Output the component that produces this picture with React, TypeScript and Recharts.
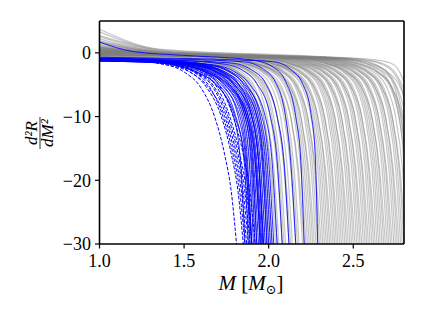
import { LineChart, Line, XAxis, YAxis, ReferenceLine } from 'recharts';

type Curve = [number, number][];

const xTicks = [1.0, 1.5, 2.0, 2.5];
const yTicks = [-30, -20, -10, 0];

// grey: all EOS samples, (M, d2R/dM2)
const grayCurves: Curve[] = [
    [[1, -0.8], [1.35, -0.95], [1.42, -1.1], [1.6, -1.7], [1.72, -3], [1.8, -5.5], [1.85, -10], [1.89, -18], [1.92, -30]],
    [[1, -0.6], [1.35, -0.75], [1.45, -1.1], [1.63, -1.7], [1.75, -3], [1.83, -5.5], [1.88, -10], [1.92, -18], [1.95, -30]],
    [[1, -0.9], [1.35, -1.05], [1.48, -1.1], [1.66, -1.7], [1.78, -3], [1.86, -5.5], [1.91, -10], [1.95, -18], [1.98, -30]],
    [[1, -0.4], [1.35, -0.55], [1.5, -1.0], [1.68, -1.7], [1.8, -3], [1.88, -5.5], [1.93, -10], [1.97, -18], [2.0, -30]],
    [[1, -0.7], [1.35, -0.85], [1.52, -1.1], [1.7, -1.7], [1.82, -3], [1.9, -5.5], [1.95, -10], [1.99, -18], [2.02, -30]],
    [[1, 0.1], [1.35, -0.3], [1.54, -0.8], [1.72, -1.7], [1.84, -3], [1.92, -5.5], [1.97, -10], [2.01, -18], [2.04, -30]],
    [[1, -0.5], [1.35, -0.6], [1.56, -0.9], [1.74, -1.7], [1.86, -3], [1.94, -5.5], [1.99, -10], [2.03, -18], [2.06, -30]],
    [[1, 0.4], [1.35, -0.2], [1.58, -0.7], [1.76, -1.7], [1.88, -3], [1.96, -5.5], [2.01, -10], [2.05, -18], [2.08, -30]],
    [[1, -0.3], [1.35, -0.4], [1.6, -0.7], [1.78, -1.7], [1.9, -3], [1.98, -5.5], [2.03, -10], [2.07, -18], [2.1, -30]],
    [[1, 1.1], [1.35, 0], [1.62, -0.6], [1.8, -1.7], [1.92, -3], [2.0, -5.5], [2.05, -10], [2.09, -18], [2.12, -30]],
    [[1, -0.2], [1.35, -0.35], [1.64, -0.6], [1.82, -1.7], [1.94, -3], [2.02, -5.5], [2.07, -10], [2.11, -18], [2.14, -30]],
    [[1, 0.3], [1.35, -0.2], [1.66, -0.6], [1.84, -1.7], [1.96, -3], [2.04, -5.5], [2.09, -10], [2.13, -18], [2.16, -30]],
    [[1, -0.6], [1.35, -0.45], [1.68, -0.6], [1.86, -1.7], [1.98, -3], [2.06, -5.5], [2.11, -10], [2.15, -18], [2.18, -30]],
    [[1, 0], [1.35, -0.3], [1.7, -0.55], [1.88, -1.7], [2.0, -3], [2.08, -5.5], [2.13, -10], [2.17, -18], [2.2, -30]],
    [[1, 1.9], [1.35, 0.2], [1.72, -0.5], [1.9, -1.7], [2.02, -3], [2.1, -5.5], [2.15, -10], [2.19, -18], [2.22, -30]],
    [[1, 0.2], [1.35, -0.25], [1.74, -0.55], [1.92, -1.7], [2.04, -3], [2.12, -5.5], [2.17, -10], [2.21, -18], [2.24, -30]],
    [[1, 0.6], [1.35, -0.15], [1.75, -0.5], [1.93, -1.7], [2.05, -3], [2.13, -5.5], [2.18, -10], [2.22, -18], [2.25, -30]],
    [[1, -0.4], [1.35, -0.4], [1.76, -0.6], [1.94, -1.7], [2.06, -3], [2.14, -5.5], [2.19, -10], [2.23, -18], [2.26, -30]],
    [[1, 0.5], [1.35, -0.2], [1.78, -0.5], [1.96, -1.6], [2.08, -3], [2.16, -5.5], [2.21, -10], [2.25, -18], [2.28, -30]],
    [[1, -0.1], [1.35, -0.3], [1.8, -0.55], [1.98, -1.6], [2.1, -3], [2.18, -5.5], [2.23, -10], [2.27, -18], [2.3, -30]],
    [[1, 2.7], [1.35, 0.4], [1.82, -0.5], [2.0, -1.6], [2.12, -3], [2.2, -5.5], [2.25, -10], [2.29, -18], [2.32, -30]],
    [[1, 0.3], [1.35, -0.2], [1.84, -0.55], [2.02, -1.6], [2.14, -3], [2.22, -5.5], [2.27, -10], [2.31, -18], [2.34, -30]],
    [[1, 1.6], [1.35, 0.1], [1.85, -0.5], [2.03, -1.6], [2.15, -3], [2.23, -5.5], [2.28, -10], [2.32, -18], [2.35, -30]],
    [[1, -0.5], [1.35, -0.45], [1.86, -0.65], [2.04, -1.6], [2.16, -3], [2.24, -5.5], [2.29, -10], [2.33, -18], [2.36, -30]],
    [[1, 0.1], [1.35, -0.3], [1.88, -0.6], [2.06, -1.6], [2.18, -3], [2.26, -5.5], [2.31, -10], [2.35, -18], [2.38, -30]],
    [[1, 0.8], [1.35, -0.1], [1.9, -0.55], [2.08, -1.6], [2.2, -3], [2.28, -5.5], [2.33, -10], [2.37, -18], [2.4, -30]],
    [[1, -0.2], [1.35, -0.35], [1.92, -0.65], [2.1, -1.6], [2.22, -3], [2.3, -5.5], [2.35, -10], [2.39, -18], [2.42, -30]],
    [[1, 0.4], [1.35, -0.2], [1.94, -0.6], [2.12, -1.6], [2.24, -3], [2.32, -5.5], [2.37, -10], [2.41, -18], [2.44, -30]],
    [[1, 0.2], [1.35, -0.25], [1.95, -0.65], [2.13, -1.6], [2.25, -3], [2.33, -5.5], [2.38, -10], [2.42, -18], [2.45, -30]],
    [[1, -0.3], [1.35, -0.4], [1.96, -0.7], [2.14, -1.6], [2.26, -3], [2.34, -5.5], [2.39, -10], [2.43, -18], [2.46, -30]],
    [[1, 1.4], [1.35, 0.05], [1.98, -0.6], [2.16, -1.6], [2.28, -3], [2.36, -5.5], [2.41, -10], [2.45, -18], [2.48, -30]],
    [[1, 0], [1.35, -0.3], [2.0, -0.65], [2.18, -1.6], [2.3, -3], [2.38, -5.5], [2.43, -10], [2.47, -18], [2.5, -30]],
    [[1, 0.6], [1.35, -0.15], [2.02, -0.65], [2.2, -1.6], [2.32, -3], [2.4, -5.5], [2.45, -10], [2.49, -18], [2.52, -30]],
    [[1, -0.4], [1.35, -0.45], [2.04, -0.75], [2.22, -1.6], [2.34, -3], [2.42, -5.5], [2.47, -10], [2.51, -18], [2.54, -30]],
    [[1, 0.2], [1.35, -0.25], [2.06, -0.7], [2.24, -1.6], [2.36, -3], [2.44, -5.5], [2.49, -10], [2.53, -18], [2.56, -30]],
    [[1, 3.3], [1.35, 0.5], [2.08, -0.6], [2.26, -1.6], [2.38, -3], [2.46, -5.5], [2.51, -10], [2.55, -18], [2.58, -30]],
    [[1, -0.1], [1.35, -0.35], [2.1, -0.75], [2.28, -1.6], [2.4, -3], [2.48, -5.5], [2.53, -10], [2.57, -18], [2.6, -30]],
    [[1, 0.5], [1.35, -0.2], [2.12, -0.7], [2.3, -1.6], [2.42, -3], [2.5, -5.5], [2.55, -10], [2.59, -18], [2.62, -30]],
    [[1, -0.3], [1.35, -0.4], [2.14, -0.8], [2.32, -1.6], [2.44, -3], [2.52, -5.5], [2.57, -10], [2.61, -18], [2.64, -30]],
    [[1, 0], [1.35, -0.3], [2.15, -0.75], [2.33, -1.6], [2.45, -3], [2.53, -5.5], [2.58, -10], [2.62, -18], [2.65, -30]],
    [[1, 0.9], [1.35, -0.1], [2.16, -0.7], [2.34, -1.6], [2.46, -3], [2.54, -5.5], [2.59, -10], [2.63, -18], [2.66, -30]],
    [[1, 0.1], [1.35, -0.3], [2.18, -0.75], [2.36, -1.6], [2.48, -3], [2.56, -5.5], [2.61, -10], [2.65, -18], [2.68, -30]],
    [[1, -0.2], [1.35, -0.35], [2.2, -0.8], [2.38, -1.6], [2.5, -3], [2.58, -5.5], [2.63, -10], [2.67, -18], [2.7, -30]],
    [[1, 0.4], [1.35, -0.2], [2.22, -0.75], [2.4, -1.6], [2.52, -3], [2.6, -5.5], [2.65, -10], [2.69, -18], [2.72, -30]],
    [[1, 2.2], [1.35, 0.25], [2.24, -0.7], [2.42, -1.6], [2.54, -3], [2.62, -5.5], [2.67, -10], [2.71, -18], [2.74, -30]],
    [[1, 0], [1.35, -0.3], [2.26, -0.8], [2.44, -1.6], [2.56, -3], [2.64, -5.5], [2.69, -10], [2.73, -18], [2.76, -30]],
    [[1, 0.6], [1.35, -0.15], [2.28, -0.75], [2.46, -1.6], [2.58, -3], [2.66, -5.5], [2.71, -10], [2.75, -18], [2.78, -30]],
    [[1, -0.3], [1.35, -0.4], [2.3, -0.85], [2.48, -1.6], [2.6, -3], [2.68, -5.5], [2.73, -10], [2.77, -18], [2.8, -30]],
    [[1, 0.3], [1.35, -0.2], [2.32, -0.8], [2.5, -1.6], [2.62, -3], [2.7, -5.5], [2.75, -10], [2.79, -18], [2.82, -30]],
    [[1, 1.2], [1.35, 0], [2.35, -0.75], [2.53, -1.6], [2.65, -3], [2.73, -5.5], [2.78, -10], [2.82, -18], [2.85, -30]],
    [[1, 0], [1.35, -0.3], [2.38, -0.85], [2.56, -1.6], [2.68, -3], [2.76, -5.5], [2.81, -10], [2.85, -18], [2.88, -30]],
    [[1, 3.7], [1.35, 0.6], [2.3, -0.6], [2.5, -1.0], [2.63, -1.9], [2.71, -3.5], [2.76, -7], [2.8, -14], [2.83, -30]],
    [[1, 0.2], [1.35, -0.25], [2.3, -0.7], [2.55, -1.1], [2.68, -1.9], [2.74, -3.2], [2.79, -6], [2.82, -11], [2.85, -20], [2.87, -30]],
    [[1, 0.7], [1.35, -0.1], [2.3, -0.6], [2.6, -1.0], [2.72, -1.6], [2.77, -2.8], [2.8, -4.7], [2.83, -9], [2.86, -18], [2.88, -30]],
];

// more grey samples with a softer bend
const grayCurvesSoft: Curve[] = [
    [[1, -0.2], [1.35, -0.45], [1.51, -0.8], [1.69, -1.6], [1.81, -3], [1.89, -5.5], [1.94, -10], [1.98, -18], [2.01, -30]],
    [[1, 0.3], [1.35, -0.25], [1.5, -0.6], [1.69, -1.6], [1.82, -3], [1.91, -5.5], [1.97, -10], [2.015, -18], [2.05, -30]],
    [[1, -0.1], [1.35, -0.35], [1.59, -0.6], [1.77, -1.6], [1.89, -3], [1.97, -5.5], [2.02, -10], [2.06, -18], [2.09, -30]],
    [[1, 0.6], [1.35, -0.15], [1.58, -0.55], [1.77, -1.6], [1.9, -3], [1.99, -5.5], [2.05, -10], [2.095, -18], [2.13, -30]],
    [[1, 0], [1.35, -0.3], [1.67, -0.55], [1.85, -1.6], [1.97, -3], [2.05, -5.5], [2.1, -10], [2.14, -18], [2.17, -30]],
    [[1, -0.3], [1.35, -0.4], [1.66, -0.6], [1.85, -1.6], [1.98, -3], [2.07, -5.5], [2.13, -10], [2.175, -18], [2.21, -30]],
    [[1, 0.9], [1.35, -0.1], [1.73, -0.5], [1.91, -1.6], [2.03, -3], [2.11, -5.5], [2.16, -10], [2.2, -18], [2.23, -30]],
    [[1, 0.1], [1.35, -0.3], [1.72, -0.55], [1.91, -1.6], [2.04, -3], [2.13, -5.5], [2.19, -10], [2.235, -18], [2.27, -30]],
    [[1, -0.2], [1.35, -0.35], [1.79, -0.6], [1.97, -1.6], [2.09, -3], [2.17, -5.5], [2.22, -10], [2.26, -18], [2.29, -30]],
    [[1, 0.4], [1.35, -0.2], [1.76, -0.55], [1.95, -1.6], [2.08, -3], [2.17, -5.5], [2.23, -10], [2.275, -18], [2.31, -30]],
    [[1, 0], [1.35, -0.3], [1.83, -0.6], [2.01, -1.6], [2.13, -3], [2.21, -5.5], [2.26, -10], [2.3, -18], [2.33, -30]],
    [[1, 0.7], [1.35, -0.1], [1.82, -0.6], [2.01, -1.6], [2.14, -3], [2.23, -5.5], [2.29, -10], [2.335, -18], [2.37, -30]],
    [[1, -0.3], [1.35, -0.4], [1.89, -0.7], [2.07, -1.6], [2.19, -3], [2.27, -5.5], [2.32, -10], [2.36, -18], [2.39, -30]],
    [[1, 0.2], [1.35, -0.25], [1.86, -0.65], [2.05, -1.6], [2.18, -3], [2.27, -5.5], [2.33, -10], [2.375, -18], [2.41, -30]],
    [[1, 1], [1.35, -0.05], [1.93, -0.6], [2.11, -1.6], [2.23, -3], [2.31, -5.5], [2.36, -10], [2.4, -18], [2.43, -30]],
    [[1, 0], [1.35, -0.3], [1.92, -0.7], [2.11, -1.6], [2.24, -3], [2.33, -5.5], [2.39, -10], [2.435, -18], [2.47, -30]],
    [[1, -0.2], [1.35, -0.35], [1.99, -0.7], [2.17, -1.6], [2.29, -3], [2.37, -5.5], [2.42, -10], [2.46, -18], [2.49, -30]],
    [[1, 0.3], [1.35, -0.2], [1.96, -0.7], [2.15, -1.6], [2.28, -3], [2.37, -5.5], [2.43, -10], [2.475, -18], [2.51, -30]],
    [[1, 2.5], [1.35, 0.35], [2.03, -0.65], [2.21, -1.6], [2.33, -3], [2.41, -5.5], [2.46, -10], [2.5, -18], [2.53, -30]],
    [[1, -0.1], [1.35, -0.35], [2.0, -0.75], [2.19, -1.6], [2.32, -3], [2.41, -5.5], [2.47, -10], [2.515, -18], [2.55, -30]],
    [[1, 0.5], [1.35, -0.2], [2.07, -0.7], [2.25, -1.6], [2.37, -3], [2.45, -5.5], [2.5, -10], [2.54, -18], [2.57, -30]],
    [[1, 0], [1.35, -0.3], [2.04, -0.75], [2.23, -1.6], [2.36, -3], [2.45, -5.5], [2.51, -10], [2.555, -18], [2.59, -30]],
    [[1, -0.3], [1.35, -0.4], [2.11, -0.8], [2.29, -1.6], [2.41, -3], [2.49, -5.5], [2.54, -10], [2.58, -18], [2.61, -30]],
    [[1, 0.8], [1.35, -0.1], [2.08, -0.7], [2.27, -1.6], [2.4, -3], [2.49, -5.5], [2.55, -10], [2.595, -18], [2.63, -30]],
    [[1, 0.2], [1.35, -0.25], [2.17, -0.75], [2.35, -1.6], [2.47, -3], [2.55, -5.5], [2.6, -10], [2.64, -18], [2.67, -30]],
    [[1, -0.1], [1.35, -0.35], [2.14, -0.8], [2.33, -1.6], [2.46, -3], [2.55, -5.5], [2.61, -10], [2.655, -18], [2.69, -30]],
    [[1, 1.6], [1.35, 0.1], [2.21, -0.7], [2.39, -1.6], [2.51, -3], [2.59, -5.5], [2.64, -10], [2.68, -18], [2.71, -30]],
    [[1, 0.3], [1.35, -0.2], [2.18, -0.8], [2.37, -1.6], [2.5, -3], [2.59, -5.5], [2.65, -10], [2.695, -18], [2.73, -30]],
    [[1, -0.2], [1.35, -0.35], [2.25, -0.85], [2.43, -1.6], [2.55, -3], [2.63, -5.5], [2.68, -10], [2.72, -18], [2.75, -30]],
    [[1, 0.1], [1.35, -0.3], [2.22, -0.8], [2.41, -1.6], [2.54, -3], [2.63, -5.5], [2.69, -10], [2.735, -18], [2.77, -30]],
    [[1, 0.9], [1.35, -0.1], [2.29, -0.8], [2.47, -1.6], [2.59, -3], [2.67, -5.5], [2.72, -10], [2.76, -18], [2.79, -30]],
    [[1, 0], [1.35, -0.3], [2.26, -0.85], [2.45, -1.6], [2.58, -3], [2.67, -5.5], [2.73, -10], [2.775, -18], [2.81, -30]],
    [[1, 0.4], [1.35, -0.2], [2.34, -0.85], [2.52, -1.6], [2.64, -3], [2.72, -5.5], [2.77, -10], [2.81, -18], [2.84, -30]],
    [[1, -0.2], [1.35, -0.35], [2.32, -0.9], [2.51, -1.6], [2.64, -3], [2.73, -5.5], [2.79, -10], [2.835, -18], [2.87, -30]],
    [[1, 1.8], [1.35, 0.15], [2.4, -0.8], [2.58, -1.6], [2.7, -3], [2.78, -5.5], [2.83, -10], [2.87, -18], [2.9, -30]],
    [[1, 0.3], [1.35, -0.2], [2.3, -0.75], [2.5, -1.2], [2.62, -2.2], [2.7, -4], [2.75, -7.5], [2.79, -14], [2.82, -30]],
    [[1, 0], [1.35, -0.3], [2.3, -0.75], [2.54, -1.2], [2.66, -2.2], [2.73, -4], [2.78, -8], [2.82, -15], [2.85, -30]],
    [[1, 0.5], [1.35, -0.2], [2.35, -0.7], [2.58, -1.1], [2.7, -2], [2.76, -3.6], [2.81, -7], [2.84, -14], [2.87, -30]],
];

// blue solid: selected samples
const blueSolid: Curve[] = [
    [[1, -1], [1.3, -1.3], [1.45, -2.0], [1.57, -3.0], [1.68, -4.8], [1.78, -9], [1.83, -16], [1.86, -30]],
    [[1, -1.2], [1.3, -1.4], [1.47, -2.0], [1.6, -3.0], [1.7, -4.8], [1.8, -9.5], [1.855, -17], [1.88, -30]],
    [[1, -0.9], [1.3, -1.1], [1.5, -1.9], [1.63, -3], [1.73, -5], [1.82, -10], [1.865, -17], [1.89, -30]],
    [[1, -1.1], [1.3, -1.3], [1.52, -2.0], [1.65, -3.1], [1.74, -5], [1.84, -10], [1.875, -17], [1.9, -30]],
    [[1, -1.05], [1.3, -1.25], [1.5, -1.9], [1.62, -3], [1.72, -5], [1.83, -10], [1.87, -17], [1.9, -30]],
    [[1, -1.25], [1.3, -1.45], [1.48, -2.1], [1.6, -3.3], [1.71, -5.5], [1.8, -10], [1.86, -17], [1.9, -30]],
    [[1, -1.3], [1.3, -1.5], [1.5, -2.0], [1.64, -3.2], [1.75, -5.2], [1.85, -10], [1.885, -17], [1.91, -30]],
    [[1, -1], [1.3, -1.2], [1.55, -1.9], [1.68, -3], [1.77, -5], [1.86, -10], [1.895, -17], [1.92, -30]],
    [[1, -1.2], [1.3, -1.4], [1.53, -2.0], [1.66, -3.1], [1.76, -5.2], [1.86, -10], [1.9, -17], [1.93, -30]],
    [[1, -0.95], [1.3, -1.15], [1.56, -1.9], [1.69, -3], [1.78, -5], [1.87, -10], [1.905, -17], [1.93, -30]],
    [[1, -1.1], [1.3, -1.3], [1.54, -1.9], [1.67, -3], [1.77, -5], [1.87, -10], [1.91, -17], [1.94, -30]],
    [[1, -1], [1.3, -1.2], [1.56, -1.9], [1.69, -3], [1.79, -5], [1.88, -10], [1.92, -17], [1.95, -30]],
    [[1, -1.3], [1.3, -1.5], [1.52, -2.1], [1.66, -3.3], [1.77, -5.4], [1.87, -10], [1.92, -17], [1.95, -30]],
    [[1, -1.2], [1.3, -1.4], [1.55, -2.1], [1.68, -3.3], [1.78, -5.5], [1.88, -10], [1.925, -17], [1.955, -30]],
    [[1, -1.05], [1.3, -1.25], [1.57, -1.9], [1.7, -3], [1.8, -5], [1.89, -10], [1.93, -17], [1.96, -30]],
    [[1, -1], [1.3, -1.2], [1.58, -1.9], [1.71, -3], [1.8, -5], [1.9, -10], [1.94, -17], [1.965, -30]],
    [[1, -1.2], [1.3, -1.4], [1.56, -2.0], [1.7, -3.1], [1.8, -5.1], [1.9, -10], [1.94, -17], [1.97, -30]],
    [[1, -0.9], [1.3, -1.1], [1.6, -1.8], [1.73, -2.9], [1.82, -4.8], [1.9, -10], [1.94, -17], [1.97, -30]],
    [[1, -1.1], [1.3, -1.3], [1.58, -1.9], [1.72, -3], [1.81, -5], [1.91, -10], [1.95, -17], [1.98, -30]],
    [[1, -1], [1.3, -1.2], [1.6, -1.9], [1.73, -3], [1.82, -5], [1.92, -10], [1.96, -17], [1.99, -30]],
    [[1, -1.1], [1.3, -1.3], [1.62, -2.0], [1.75, -3.1], [1.84, -5], [1.93, -10], [1.965, -17], [1.99, -30]],
    [[1, -1.15], [1.3, -1.35], [1.6, -2.0], [1.73, -3.1], [1.83, -5.1], [1.93, -10], [1.97, -17], [2.0, -30]],
    [[1, -0.95], [1.3, -1.1], [1.63, -1.8], [1.76, -2.9], [1.85, -4.9], [1.94, -10], [1.98, -17], [2.01, -30]],
    [[1, -0.95], [1.3, -1.15], [1.66, -1.9], [1.78, -3], [1.87, -5], [1.95, -10], [1.99, -17], [2.02, -30]],
    [[1, -1.1], [1.3, -1.3], [1.64, -1.9], [1.77, -3], [1.86, -5], [1.96, -10], [2.0, -17], [2.03, -30]],
    [[1, -1], [1.3, -1.2], [1.68, -1.9], [1.8, -3], [1.89, -5], [1.98, -10], [2.02, -17], [2.05, -30]],
    [[1, -0.9], [1.3, -1.0], [1.72, -1.7], [1.85, -2.8], [1.93, -4.8], [2.01, -10], [2.05, -17], [2.08, -30]],
    [[1, -1], [1.3, -1.1], [1.78, -1.6], [1.9, -2.7], [1.98, -4.7], [2.05, -10], [2.09, -17], [2.12, -30]],
    [[1, -0.8], [1.3, -0.9], [1.85, -1.4], [1.97, -2.6], [2.04, -4.6], [2.1, -10], [2.13, -17], [2.16, -30]],
    [[1, 1.7], [1.2, 0.2], [1.5, -0.4], [1.9, -1.1], [2.03, -2.3], [2.1, -4.5], [2.16, -10], [2.19, -17], [2.21, -30]],
    [[1, -0.7], [1.3, -0.8], [1.8, -1.1], [2.03, -1.4], [2.13, -2.6], [2.2, -4.8], [2.25, -9.5], [2.275, -16], [2.29, -30]],
];

// blue dashed
const blueDashed: Curve[] = [
    [[1, -1], [1.2, -1.1], [1.35, -1.6], [1.5, -3], [1.6, -5.5], [1.68, -10], [1.74, -16], [1.78, -22], [1.81, -30]],
    [[1, -1.1], [1.2, -1.2], [1.38, -1.6], [1.53, -2.9], [1.63, -5.3], [1.72, -10], [1.78, -16], [1.82, -22], [1.85, -30]],
    [[1, -0.95], [1.2, -1.05], [1.4, -1.6], [1.55, -2.9], [1.65, -5.3], [1.73, -10], [1.79, -16], [1.83, -22], [1.86, -30]],
    [[1, -1.2], [1.2, -1.3], [1.38, -1.8], [1.54, -3.1], [1.65, -5.6], [1.74, -10], [1.8, -16], [1.84, -22], [1.87, -30]],
    [[1, -1.05], [1.2, -1.15], [1.41, -1.7], [1.56, -3], [1.67, -5.4], [1.75, -10], [1.81, -16], [1.85, -22], [1.88, -30]],
    [[1, -1.15], [1.2, -1.25], [1.42, -1.7], [1.57, -3], [1.68, -5.4], [1.76, -10], [1.82, -16], [1.86, -22], [1.89, -30]],
    [[1, -1], [1.2, -1.1], [1.44, -1.6], [1.59, -2.9], [1.69, -5.2], [1.77, -10], [1.83, -16], [1.87, -22], [1.9, -30]],
    [[1, -1.1], [1.2, -1.2], [1.46, -1.7], [1.61, -2.9], [1.71, -5.2], [1.79, -10], [1.85, -16], [1.89, -22], [1.92, -30]],
];

const toRows = (c: Curve) => c.map(([x, y]) => ({ x, y }));

const FONT = '"Liberation Serif", "DejaVu Serif", serif';
const tickStyle = { fontFamily: FONT, fontSize: 18, fill: '#000' };

export default function App() {
    const grays = [...grayCurves, ...grayCurvesSoft];
    return (
        <div style={{ position: 'relative', width: 425, height: 319, background: '#fff', fontFamily: FONT }}>
            <style>{'body{margin:0}'}</style>
            <LineChart width={425} height={319} margin={{ top: 21, right: 21, bottom: 0, left: 0 }}>
                <XAxis
                    type="number"
                    dataKey="x"
                    domain={[1, 2.8]}
                    ticks={xTicks}
                    interval={0}
                    allowDataOverflow
                    height={75}
                    tickSize={4.5}
                    tickMargin={5.5}
                    tick={tickStyle}
                    tickLine={{ stroke: '#000', strokeWidth: 1.2 }}
                    axisLine={{ stroke: '#000', strokeWidth: 1.6 }}
                    tickFormatter={(v: number) => v.toFixed(1)}
                />
                <YAxis
                    type="number"
                    domain={[-30, 5]}
                    ticks={yTicks}
                    interval={0}
                    allowDataOverflow
                    width={99.5}
                    tickSize={4.5}
                    tickMargin={4}
                    tick={tickStyle}
                    tickLine={{ stroke: '#000', strokeWidth: 1.2 }}
                    axisLine={{ stroke: '#000', strokeWidth: 1.6 }}
                    tickFormatter={(v: number) => (v < 0 ? `\u2212${-v}` : `${v}`)}
                />
                {grays.map((c, i) => (
                    <Line key={`g-${i}`} data={toRows(c)} dataKey="y" type="monotone" stroke="#808080"
                        strokeOpacity={0.45} strokeWidth={1.2} dot={false} activeDot={false} isAnimationActive={false} />
                ))}
                {blueSolid.map((c, i) => (
                    <Line key={`b-${i}`} data={toRows(c)} dataKey="y" type="monotone" stroke="#0000ff"
                        strokeOpacity={0.85} strokeWidth={1} dot={false} activeDot={false} isAnimationActive={false} />
                ))}
                {blueDashed.map((c, i) => (
                    <Line key={`d-${i}`} data={toRows(c)} dataKey="y" type="monotone" stroke="#0000ff"
                        strokeDasharray="3.5 1.6" strokeWidth={1} dot={false} activeDot={false} isAnimationActive={false} />
                ))}
                <ReferenceLine y={5} stroke="#000" strokeWidth={1.6} />
                <ReferenceLine x={2.8} stroke="#000" strokeWidth={1.6} />
            </LineChart>
            {/* axis titles */}
            <svg width={425} height={319} style={{ position: 'absolute', left: 0, top: 0, pointerEvents: 'none' }}>
                <g transform="translate(40,133) rotate(-90)" fontFamily={FONT} fontStyle="italic" fill="#000">
                    <text x={0} y={-3} textAnchor="middle" fontSize={17}>d²R</text>
                    <line x1={-16} x2={16} y1={0} y2={0} stroke="#000" strokeWidth={0.8} />
                    <text x={0} y={13} textAnchor="middle" fontSize={17}>dM²</text>
                </g>
                <text x={251} y={290} textAnchor="middle" fontFamily={FONT} fontSize={21} fill="#000">
                    <tspan fontStyle="italic">M</tspan>
                    <tspan> [</tspan>
                    <tspan fontStyle="italic">M</tspan>
                    <tspan fontSize={13} dy={4}>⊙</tspan>
                    <tspan dy={-4}>]</tspan>
                </text>
            </svg>
        </div>
    );
}
